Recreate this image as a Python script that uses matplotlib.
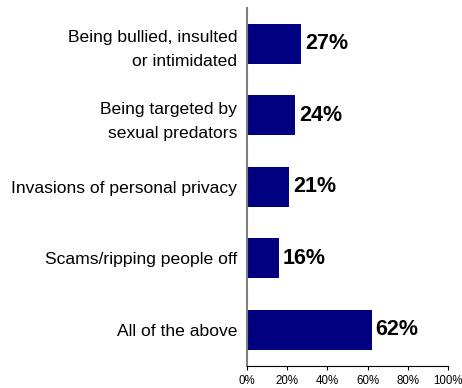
import matplotlib
matplotlib.use("Agg")
import matplotlib.pyplot as plt
from matplotlib.ticker import FuncFormatter

plt.rcParams['font.family'] = ['Liberation Sans', 'DejaVu Sans']

# --- data ---
categories = [
    "Being bullied, insulted\nor intimidated",
    "Being targeted by\nsexual predators",
    "Invasions of personal privacy",
    "Scams/ripping people off",
    "All of the above",
]
values = [27, 24, 21, 16, 62]
x_ticks = [0, 20, 40, 60, 80, 100]

fig = plt.figure(figsize=(4.62, 3.88), dpi=100)
ax = fig.add_axes([247 / 462, 1 - 365.5 / 388, 201 / 462, 357.5 / 388])

pos = list(range(len(categories)))
ax.barh(pos, values, height=0.555, color="#000080")

for p, v in zip(pos, values):
    ax.text(v + 1.8, p, f"{v}%", va="center", ha="left",
            fontsize=15.5, fontweight="bold", color="black")

ax.set_xlim(0, 100)
ax.set_ylim(len(categories) - 0.5, -0.5)
ax.set_xticks(x_ticks)
ax.xaxis.set_major_formatter(FuncFormatter(lambda x, _: f"{x:.0f}%"))
ax.tick_params(axis="x", labelsize=8.3, length=3, width=0.8, pad=3.5, direction="out")
ax.set_yticks(pos)
ax.set_yticklabels(categories, fontsize=12.6, linespacing=1.75)
ax.tick_params(axis="y", length=0, pad=7)

ax.spines["top"].set_visible(False)
ax.spines["right"].set_visible(False)
ax.spines["left"].set_color("#808080")
ax.spines["left"].set_linewidth(1.5)
ax.spines["bottom"].set_color("black")
ax.spines["bottom"].set_linewidth(0.8)

fig.savefig("out.png", dpi=100)
